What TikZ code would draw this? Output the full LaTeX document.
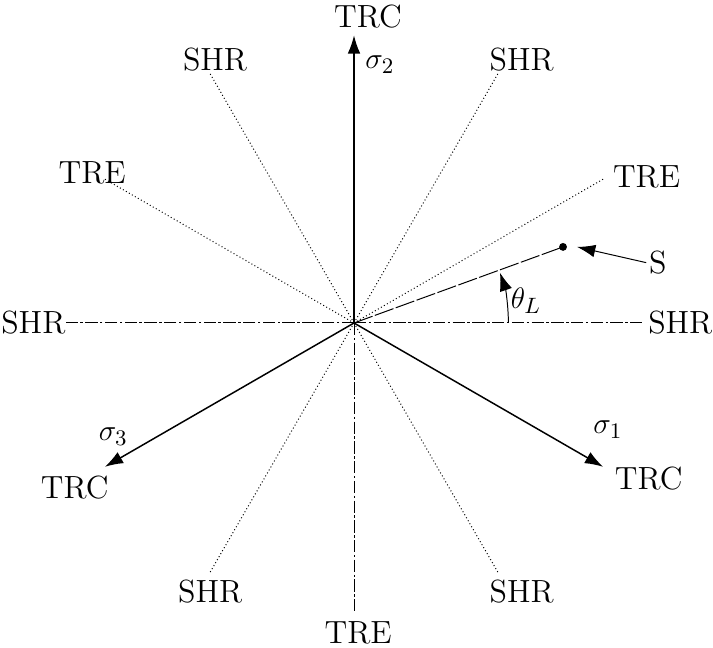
\documentclass[tikz,border=0pt]{standalone}
\usepackage{amsmath}
\usetikzlibrary{arrows.meta,positioning,calc}

\begin{document}
\begin{tikzpicture}[every node/.style={font=\fontsize{13}{15}\selectfont, inner sep=1pt},
  ax/.style={-{Latex[length=2.6mm,width=1.8mm]}, semithick},
  dia/.style={densely dotted, thin},
  dd/.style={thin, dash pattern=on 5pt off 1pt on 1pt off 1pt}]
\useasboundingbox (-5.045,-4.631) rectangle (5.116,4.603);
\coordinate (o) at (0,0);
\foreach \a/\n in {90/c2,-30/c1,210/c3,150/e1,30/e2,-90/e3,0/s0,60/s1,120/s2,180/s3,240/s4,300/s5}
  \coordinate (\n) at (\a:4.1);
\coordinate (p) at (20:3.17);
\node (tc2) at (0.2,4.36) {TRC};
\node (tc1) at (4.2,-2.21) {TRC};
\node (tc3) at (-3.98,-2.34) {TRC};
\node (te1) at (-3.73,2.14) {TRE};
\node (te2) at (4.17,2.08) {TRE};
\node (te3) at (0.06,-4.42) {TRE};
\node (ts0) at (4.65,0) {SHR};
\node (ts1) at (2.39,3.75) {SHR};
\node (ts2) at (-1.98,3.75) {SHR};
\node (ts3) at (-4.57,0) {SHR};
\node (ts4) at (-2.05,-3.83) {SHR};
\node (ts5) at (2.39,-3.83) {SHR};
\node (g2) at (0.37,3.68) {$\sigma_2$};
\node (g1) at (3.62,-1.52) {$\sigma_1$};
\node (g3) at (-3.43,-1.62) {$\sigma_3$};
\node (s) at (4.33,0.86) {S};
\node (th) at (2.45,0.32) {$\theta_L$};
\draw[ax] (o)--(c2); \draw[ax] (o)--(c1); \draw[ax] (o)--(c3);
\draw[dia] (o)--(e1); \draw[dia] (o)--(e2); \draw[dd] (o)--(e3);
\draw[dd] (o)--(s0); \draw[dd] (o)--(s3);
\draw[dia] (o)--(s1); \draw[dia] (o)--(s2); \draw[dia] (o)--(s4); \draw[dia] (o)--(s5);
\draw[thin, dash pattern=on 8pt off 1pt] (o)--(p);
\fill (p) circle (1.6pt);
\draw[ax, thin] (s.west)--($(p)+(0.2,0)$);
\draw[ax, thin] (2.2,0) arc (0:19:2.2);
\end{tikzpicture}
\end{document}
